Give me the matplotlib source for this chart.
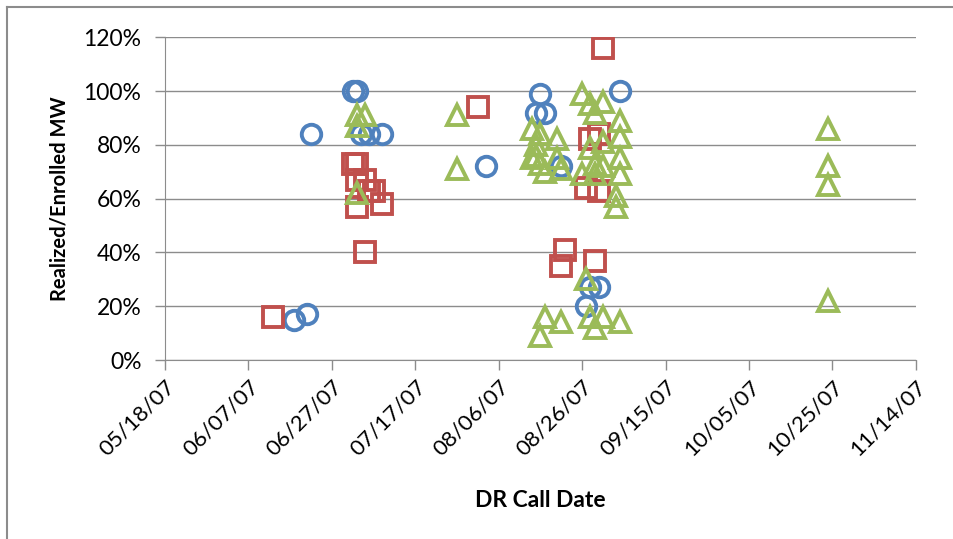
import matplotlib
matplotlib.use("Agg")
import matplotlib.pyplot as plt
from matplotlib.lines import Line2D
import pandas as pd

# Blue circles
blue_dates = ["06/18/07", "06/21/07", "06/22/07", "07/02/07", "07/03/07", "07/04/07", "07/06/07",
              "07/09/07", "08/03/07", "08/16/07", "08/15/07", "08/17/07", "08/21/07", "09/04/07",
              "08/27/07", "08/28/07", "08/30/07"]
blue_vals = [15, 17, 84, 100, 100, 84, 84, 84, 72, 99, 92, 92, 72, 100, 20, 27, 27]

# Red squares
red_dates = ["06/13/07", "07/02/07", "07/03/07", "07/03/07", "07/05/07", "07/06/07", "07/07/07",
             "07/03/07", "07/09/07", "07/05/07", "08/01/07", "08/22/07", "08/21/07", "08/29/07",
             "08/28/07", "08/30/07", "08/27/07", "08/30/07", "08/31/07"]
red_vals = [16, 73, 73, 67, 67, 63, 63, 57, 58, 40, 94, 41, 35, 37, 82, 84, 64, 63, 116]

# Green triangles
green_dates = ["07/03/07", "07/05/07", "07/03/07", "07/03/07", "07/27/07", "07/27/07",
               "08/14/07", "08/16/07", "08/15/07", "08/15/07", "08/16/07", "08/17/07", "08/20/07",
               "08/20/07", "08/21/07", "08/14/07", "08/17/07", "08/16/07", "08/21/07",
               "08/26/07", "08/28/07", "08/31/07", "08/29/07", "09/04/07", "08/31/07", "08/28/07",
               "09/04/07", "09/04/07", "08/26/07", "08/29/07", "08/31/07", "09/04/07", "09/03/07",
               "09/03/07", "08/29/07",
               "08/27/07", "08/28/07", "08/31/07", "08/29/07", "09/04/07",
               "10/24/07", "10/24/07", "10/24/07", "10/24/07"]
green_vals = [91, 91, 87, 62, 91, 71,
              86, 84, 80, 76, 73, 70, 82,
              75, 71, 75, 16, 9, 14,
              99, 95, 96, 92, 89, 81, 79,
              83, 75, 69, 69, 72, 69, 57,
              61, 73,
              30, 16, 16, 12, 14,
              86, 72, 65, 22]

x_ticks = ["05/18/07", "06/07/07", "06/27/07", "07/17/07", "08/06/07", "08/26/07",
           "09/15/07", "10/05/07", "10/25/07", "11/14/07"]
y_ticks = [0, 20, 40, 60, 80, 100, 120]

plt.rcParams["font.family"] = ["Lato", "DejaVu Sans"]
grey = "#8c8c8c"

fig = plt.figure(figsize=(9.54, 5.39), dpi=100)
ax = fig.add_axes([0.173, 0.332, 0.787, 0.599])

def d(lst):
    return pd.to_datetime(lst, format="%m/%d/%y")

ms = 14
mew = 2.8
ax.plot(d(blue_dates), blue_vals, "o", ms=ms, mfc="none", mec="#4F81BD", mew=mew)
ax.plot(d(red_dates), red_vals, "s", ms=ms, mfc="none", mec="#C0504D", mew=mew)
ax.plot(d(green_dates), green_vals, "^", ms=ms + 1, mfc="none", mec="#9BBB59", mew=mew)

xt = d(x_ticks)
ax.set_xlim(xt[0], xt[-1])
ax.set_xticks(xt)
ax.set_xticklabels(x_ticks, rotation=45, ha="right", rotation_mode="anchor", fontsize=16)
ax.set_ylim(0, 120)
ax.set_yticks(y_ticks)
ax.set_yticklabels([f"{v}%" for v in y_ticks], fontsize=16.5)

ax.grid(axis="y", color=grey, lw=1)
ax.set_axisbelow(True)
for s in ["top", "right"]:
    ax.spines[s].set_visible(False)
for s in ["left", "bottom"]:
    ax.spines[s].set_color(grey)
ax.tick_params(axis="both", color=grey, length=7, width=1)
ax.tick_params(axis="y", pad=10)
ax.tick_params(axis="x", pad=5)

ax.set_ylabel("Realized/Enrolled MW", fontsize=14.5, fontweight="bold", labelpad=10)
ax.set_xlabel("DR Call Date", fontsize=16.5, fontweight="bold", labelpad=22)

# outer chart border
fig.add_artist(Line2D([0.0073, 0.0073], [0, 0.987], color=grey, lw=1.5, transform=fig.transFigure))
fig.add_artist(Line2D([0.0073, 1.0], [0.987, 0.987], color=grey, lw=1.5, transform=fig.transFigure))

fig.savefig("out.png", dpi=100)
